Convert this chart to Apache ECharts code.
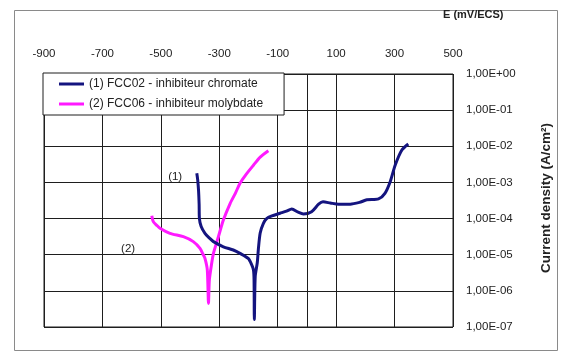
<!DOCTYPE html>
<html>
<head>
<meta charset="utf-8">
<script src="https://cdn.jsdelivr.net/npm/echarts@6/dist/echarts.min.js"></script>
<style>
  html, body { margin: 0; padding: 0; background: #ffffff; }
  #chart { width: 562px; height: 352px; }
</style>
</head>
<body>
<div id="chart"></div>
<script>
// Polarisation curves: potential E (mV/ECS) vs current density (A/cm2)
const seriesNames = [
  '(1) FCC02 - inhibiteur chromate',
  '(2) FCC06 - inhibiteur molybdate'
];

// [E (mV), i (A/cm2)]
const chromateCurve = [
  [-377, 1.8e-3], [-374, 1.2e-3], [-371, 6e-4], [-369, 2.5e-4], [-368, 1.0e-4],
  [-362, 6e-5], [-349, 3.9e-5], [-332, 2.8e-5], [-320, 2.3e-5], [-286, 1.66e-5],
  [-252, 1.35e-5], [-229, 1.09e-5], [-201, 7.9e-6], [-190, 5.5e-6], [-183, 3.8e-6],
  [-181, 2.0e-6], [-180, 1.6e-7], [-177, 2.5e-6], [-170, 6e-6], [-166, 1.5e-5],
  [-160, 4e-5], [-149, 7.4e-5], [-138, 1.0e-4], [-120, 1.18e-4], [-92, 1.4e-4],
  [-70, 1.6e-4], [-52, 1.84e-4], [-30, 1.5e-4], [-12, 1.34e-4], [16, 1.55e-4],
  [40, 2.5e-4], [55, 2.9e-4], [80, 2.7e-4], [108, 2.5e-4], [148, 2.5e-4],
  [180, 2.8e-4], [205, 3.3e-4], [245, 3.5e-4], [267, 5e-4], [285, 1.05e-3],
  [302, 3e-3], [325, 7.9e-3], [347, 1.16e-2]
];

const molybdateCurve = [
  [-531, 1.2e-4], [-526, 8.2e-5], [-514, 6.5e-5], [-503, 5.4e-5], [-469, 3.9e-5],
  [-423, 3.15e-5], [-389, 2.3e-5], [-366, 1.5e-5], [-355, 1.0e-5], [-349, 7.9e-6],
  [-341, 3.8e-6], [-337, 4.5e-7], [-334, 2.0e-6], [-326, 5.8e-6], [-320, 1.09e-5],
  [-303, 3.15e-5], [-286, 9.1e-5], [-263, 2.6e-4], [-245, 5e-4], [-229, 9.5e-4],
  [-210, 1.6e-3], [-183, 3.0e-3], [-160, 5e-3], [-132, 7.5e-3]
];

// curve tags placed next to each branch
const curveTags = ['(1)', '(2)'];
const curveTagAt = [[-451, 1.4e-3], [-612, 1.5e-5]];

// axis ticks
const xMin = -900, xMax = 500, xStep = 200;
const yTickLabels = ['1,00E-07', '1,00E-06', '1,00E-05', '1,00E-04',
                     '1,00E-03', '1,00E-02', '1,00E-01', '1,00E+00'];

const xTitle = 'E (mV/ECS)';
const yTitle = 'Current density (A/cm²)';

const FONT = 'Liberation Sans, Arial, sans-serif';
const INK = '#222222';
const GRIDC = '#1e1e1e';
const NAVY = '#14147f';
const MAGENTA = '#ff19ff';

const chart = echarts.init(document.getElementById('chart'), null, { renderer: 'canvas' });

function tagPoint(i) {
  return {
    symbol: 'circle',
    symbolSize: 1,
    itemStyle: { color: 'rgba(0,0,0,0)' },
    label: { show: true, position: 'inside', color: INK, fontSize: 11.5, fontFamily: FONT,
             formatter: curveTags[i] },
    data: [{ coord: curveTagAt[i] }]
  };
}

chart.setOption({
  animation: false,
  backgroundColor: '#ffffff',
  textStyle: { fontFamily: FONT },
  graphic: [
    { type: 'rect', z: -1, silent: true,
      shape: { x: 14.5, y: 10.5, width: 543, height: 340 },
      style: { fill: 'none', stroke: '#8a8a8a', lineWidth: 1 } },
    { type: 'text', x: 443, y: 15,
      style: { text: xTitle, font: 'bold 11px ' + FONT, fill: INK,
               textAlign: 'left', textVerticalAlign: 'middle', align: 'left', verticalAlign: 'middle' } },
    { type: 'text', x: 546, y: 198, rotation: Math.PI / 2,
      style: { text: yTitle, font: 'bold 13.5px ' + FONT, fill: INK,
               textAlign: 'center', textVerticalAlign: 'middle', align: 'center', verticalAlign: 'middle' } }
  ],
  grid: {
    left: 44, top: 74, width: 409, height: 253,
    show: true, backgroundColor: '#ffffff', borderColor: GRIDC, borderWidth: 1
  },
  legend: {
    orient: 'vertical',
    left: 43, top: 73,
    padding: [4, 21, 4, 16],
    itemGap: 6,
    itemWidth: 25, itemHeight: 3,
    backgroundColor: '#ffffff',
    borderColor: GRIDC, borderWidth: 1, borderRadius: 0,
    textStyle: { color: INK, fontSize: 12, fontFamily: FONT, height: 14, lineHeight: 14 },
    data: [
      { name: seriesNames[0], icon: 'rect', itemStyle: { color: NAVY } },
      { name: seriesNames[1], icon: 'rect', itemStyle: { color: MAGENTA } }
    ]
  },
  xAxis: {
    type: 'value',
    position: 'top',
    min: xMin, max: xMax, interval: xStep,
    axisLine: { show: false },
    axisTick: { show: false },
    axisLabel: { color: INK, fontSize: 11.5, fontFamily: FONT, margin: 14 },
    splitLine: { show: true, lineStyle: { color: GRIDC, width: 1 } }
  },
  yAxis: {
    type: 'log',
    logBase: 10,
    position: 'right',
    min: 1e-7, max: 1, interval: 1,
    axisLine: { show: false },
    axisTick: { show: false },
    axisLabel: {
      color: INK, fontSize: 11.5, fontFamily: FONT, margin: 13,
      formatter: function (v) {
        const k = Math.round(Math.log10(v)) + 7;
        return yTickLabels[k] !== undefined ? yTickLabels[k] : '';
      }
    },
    splitLine: { show: true, lineStyle: { color: GRIDC, width: 1 } }
  },
  series: [
    {
      name: seriesNames[0],
      type: 'line',
      data: chromateCurve,
      showSymbol: false, symbol: 'none',
      smooth: 0.25,
      lineStyle: { color: NAVY, width: 3 },
      itemStyle: { color: NAVY },
      z: 3,
      markLine: {
        silent: true, symbol: 'none',
        label: { show: false },
        lineStyle: { color: GRIDC, width: 1, type: 'solid' },
        data: [{ xAxis: 0 }]
      },
      markPoint: tagPoint(0)
    },
    {
      name: seriesNames[1],
      type: 'line',
      data: molybdateCurve,
      showSymbol: false, symbol: 'none',
      smooth: 0.25,
      lineStyle: { color: MAGENTA, width: 3 },
      itemStyle: { color: MAGENTA },
      z: 2,
      markPoint: tagPoint(1)
    }
  ]
});
</script>
</body>
</html>
